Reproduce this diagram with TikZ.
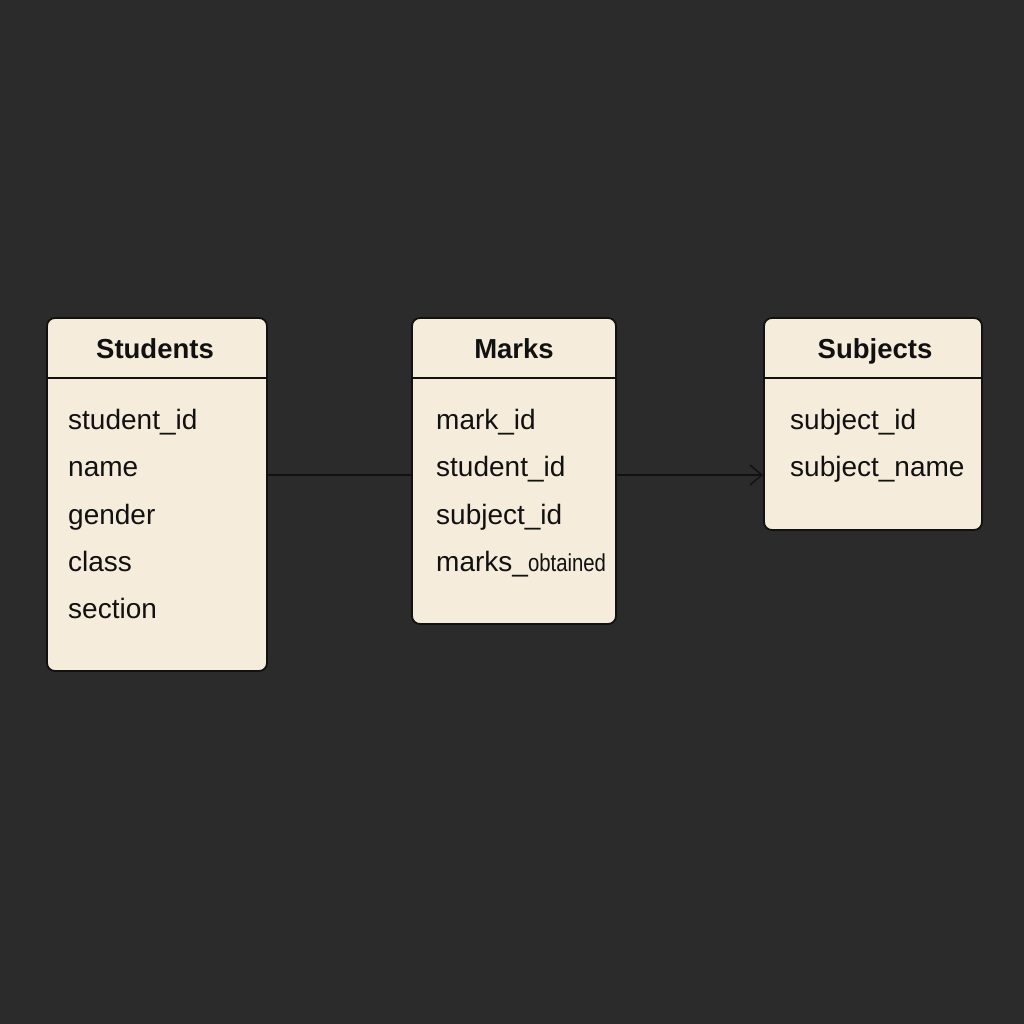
\documentclass[tikz,border=0pt]{standalone}
\usepackage{fontspec}
\setmainfont{Liberation Sans}
\usetikzlibrary{arrows.meta}
\definecolor{bg}{HTML}{2B2B2B}
\definecolor{cream}{HTML}{F5ECDB}
\definecolor{ink}{HTML}{111111}
\begin{document}
\begin{tikzpicture}[x=1pt,y=-1pt,
  tbl/.style={draw=ink, line width=1.8pt, fill=cream, rounded corners=8pt, inner sep=0pt},
  hdr/.style={font=\fontsize{27.5}{30}\selectfont\bfseries, text=ink, anchor=base, inner sep=0pt},
  fld/.style={font=\fontsize{28}{30}\selectfont, text=ink, anchor=base west, inner sep=0pt},
  sep/.style={draw=ink, line width=1.4pt},
  conn/.style={draw=ink, line width=1.4pt}]
\fill[bg] (0,0) rectangle (1024,1024);
\useasboundingbox (0,0) rectangle (1024,1024);
% Students
\node[tbl, minimum width=220pt, minimum height=353pt] (stu) at (157,494.5) {};
\node[hdr] (stuh) at (155,358) {Students};
\coordinate (stul) at (47,378); \coordinate (stur) at (267,378);
\draw[sep] (stul) -- (stur);
\node[fld] (s1) at (68,429) {student\_id};
\node[fld] (s2) at (68,476) {name};
\node[fld] (s3) at (68,524) {gender};
\node[fld] (s4) at (68,571) {class};
\node[fld] (s5) at (68,618) {section};
% Marks
\node[tbl, minimum width=204pt, minimum height=306pt] (mrk) at (514,471) {};
\node[hdr] (mrkh) at (514,358) {Marks};
\coordinate (mrkl) at (412,378); \coordinate (mrkr) at (616,378);
\draw[sep] (mrkl) -- (mrkr);
\node[fld] (m1) at (436,429) {mark\_id};
\node[fld] (m2) at (436,476) {student\_id};
\node[fld] (m3) at (436,524) {subject\_id};
\node[fld] (m4) at (436,571) {marks\_\scalebox{0.83}[1]{\fontsize{24.5}{28}\selectfont obtained}};
% Subjects
\node[tbl, minimum width=218pt, minimum height=212pt] (sub) at (873,424) {};
\node[hdr] (subh) at (875,358) {Subjects};
\coordinate (subl) at (764,378); \coordinate (subr) at (982,378);
\draw[sep] (subl) -- (subr);
\node[fld] (j1) at (790,429) {subject\_id};
\node[fld] (j2) at (790,476) {subject\_name};
% connectors
\coordinate (c1a) at (267,475); \coordinate (c1b) at (412,475);
\draw[conn] (c1a) -- (c1b);
\coordinate (c2a) at (616,475); \coordinate (c2b) at (763,475);
\draw[conn, -{Straight Barb[length=12pt,width=20pt]}] (c2a) -- (c2b);
\end{tikzpicture}
\end{document}
